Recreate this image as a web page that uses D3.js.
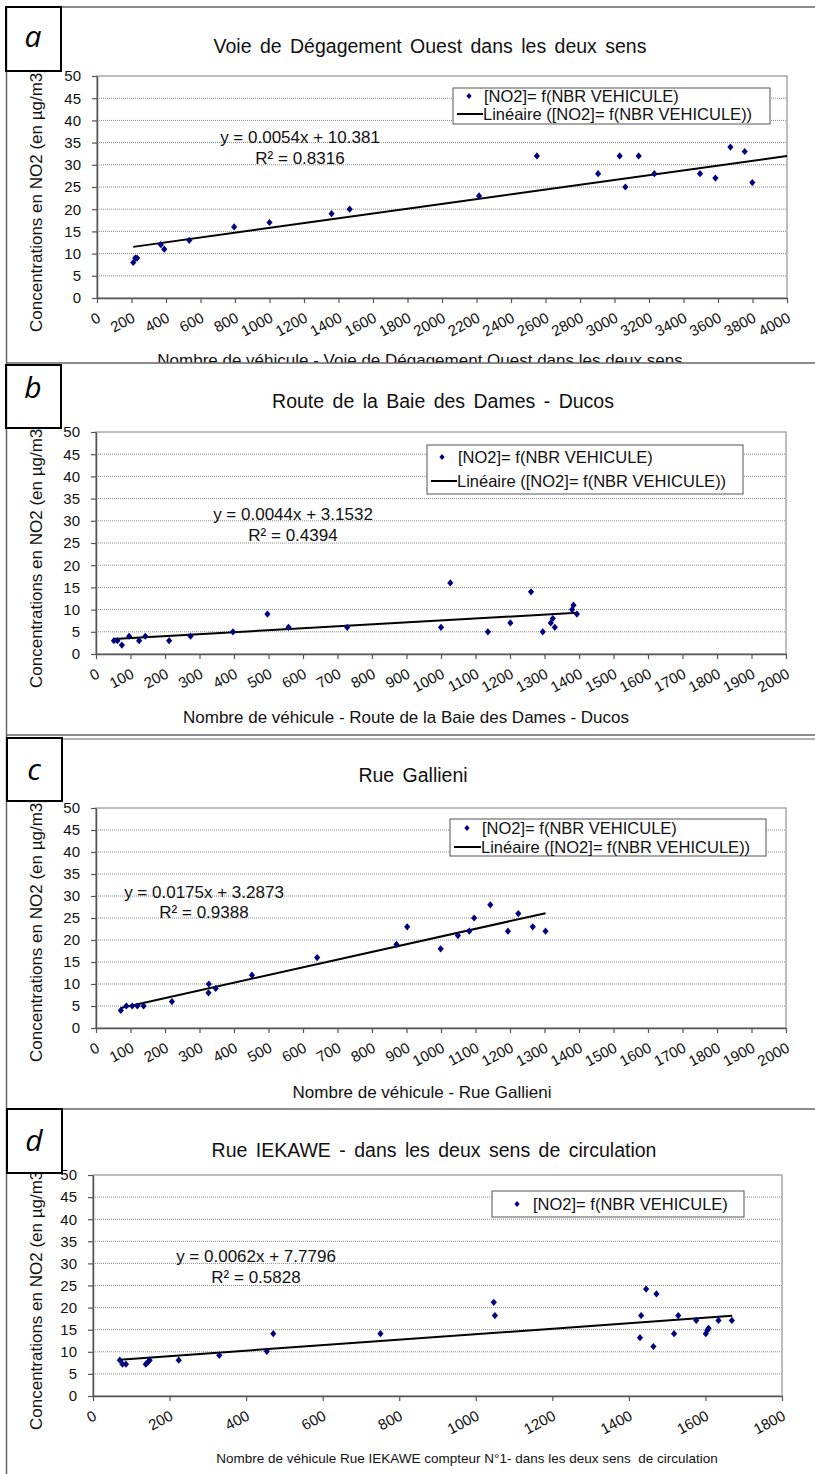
<!DOCTYPE html>
<html>
<head>
<meta charset="utf-8">
<script src="https://cdn.jsdelivr.net/npm/d3@7"></script>
<style>
  body { margin: 0; background: #fff; }
  svg { display: block; font-family: "Liberation Sans", Arial, sans-serif; }
</style>
</head>
<body>
<div id="chart"></div>
<script>
var width = 815;
var height = 1474;

// a - Voie de Dégagement Ouest
var aVehicules = [210, 222, 232, 370, 390, 535, 795, 1000, 1360, 1465, 2215, 2550, 2905, 3030, 3063, 3140, 3231, 3496, 3585, 3672, 3755, 3799];
var aNO2 = [8, 9, 9, 12, 11, 13, 16, 17, 19, 20, 23, 32, 28, 32, 25, 32, 28, 28, 27, 34, 33, 26];
var aFit = [0.0054, 10.381, 0.8316];
var aTrendRange = [210, 4000];

// b - Route de la Baie des Dames
var bVehicules = [52, 62, 75, 96, 125, 143, 212, 274, 397, 497, 558, 728, 1000, 1027, 1136, 1201, 1261, 1295, 1318, 1324, 1330, 1380, 1384, 1394];
var bNO2 = [3, 3, 2, 4, 3, 4, 3, 4, 5, 9, 6, 6, 6, 16, 5, 7, 14, 5, 7, 8, 6, 10, 11, 9];
var bFit = [0.0044, 3.1532, 0.4394];
var bTrendRange = [52, 1394];

// c - Rue Gallieni
var cVehicules = [72, 88, 105, 120, 138, 220, 326, 327, 347, 452, 641, 871, 902, 999, 1049, 1082, 1096, 1143, 1194, 1224, 1266, 1303];
var cNO2 = [4, 5, 5, 5, 5, 6, 8, 10, 9, 12, 16, 19, 23, 18, 21, 22, 25, 28, 22, 26, 23, 22];
var cFit = [0.0175, 3.2873, 0.9388];
var cTrendRange = [72, 1303];

// d - Rue IEKAWE
var dVehicules = [70, 77, 86, 138, 144, 148, 224, 330, 454, 471, 751, 1047, 1050, 1429, 1432, 1445, 1464, 1472, 1518, 1529, 1576, 1601, 1605, 1608, 1634, 1669];
var dNO2 = [8.1, 7.2, 7.2, 7.2, 7.7, 8.1, 8.1, 9.2, 10.1, 14.1, 14.1, 21.2, 18.2, 13.2, 18.2, 24.2, 11.2, 23.1, 14.1, 18.2, 17.1, 14.1, 14.9, 15.3, 17.1, 17.1];
var dFit = [0.0062, 7.7796, 0.5828];
var dTrendRange = [70, 1670];

var yTicks = [0, 5, 10, 15, 20, 25, 30, 35, 40, 45, 50];
var xTicksA = d3.range(0, 4001, 200);
var xTicksBC = d3.range(0, 2001, 100);
var xTicksD = d3.range(0, 1801, 200);

var yTitle = "Concentrations en NO2 (en µg/m3)";
var serieName = "[NO2]= f(NBR VEHICULE)";
var trendName = "Linéaire ([NO2]= f(NBR VEHICULE))";

var panels = [
  { letter: "a", title: "Voie de Dégagement Ouest dans les deux sens",
    xTitle: "Nombre de véhicule - Voie de Dégagement Ouest dans les deux sens",
    xs: aVehicules, ys: aNO2, fit: aFit, trend: aTrendRange, xTicks: xTicksA, legendRows: 2,
    top: 7, bottom: 363, plot: [97, 76, 787, 298], titleAt: [430, 53], xTitleAt: [420, 366], xTitleSize: 17,
    eqAt: [300, 143, 164], legend: [453, 88, 317, 36, 102, 120, 469, 483], box: [6, 7, 55, 64], letterAt: [33, 47] },
  { letter: "b", title: "Route de la Baie des Dames - Ducos",
    xTitle: "Nombre de véhicule - Route de la Baie des Dames - Ducos",
    xs: bVehicules, ys: bNO2, fit: bFit, trend: bTrendRange, xTicks: xTicksBC, legendRows: 2,
    top: 363, bottom: 735, plot: [96, 432, 786, 654], titleAt: [443, 408], xTitleAt: [406, 723], xTitleSize: 17,
    eqAt: [293, 520, 541], legend: [427, 445, 316, 49, 463, 487, 442, 457], box: [6, 365, 55, 63], letterAt: [33, 398] },
  { letter: "c", title: "Rue Gallieni",
    xTitle: "Nombre de véhicule - Rue Gallieni",
    xs: cVehicules, ys: cNO2, fit: cFit, trend: cTrendRange, xTicks: xTicksBC, legendRows: 2,
    top: 739, bottom: 1109, plot: [96, 808, 786, 1028], titleAt: [413, 782], xTitleAt: [422, 1098], xTitleSize: 17,
    eqAt: [204, 898, 918], legend: [450, 819, 316, 37, 834, 853, 467, 481], box: [7, 738, 55, 63], letterAt: [34, 780] },
  { letter: "d", title: "Rue IEKAWE - dans les deux sens de circulation",
    xTitle: "Nombre de véhicule Rue IEKAWE compteur N°1- dans les deux sens  de circulation",
    xs: dVehicules, ys: dNO2, fit: dFit, trend: dTrendRange, xTicks: xTicksD, legendRows: 1,
    top: 1109, bottom: 1474, plot: [93, 1175, 782, 1396], titleAt: [434, 1157], xTitleAt: [467, 1463], xTitleSize: 13.5,
    eqAt: [256, 1262, 1283], legend: [492, 1191, 252, 26, 1210, 0, 517, 532], box: [7, 1109, 55, 64], letterAt: [34, 1151] }
];

var svg = d3.select("#chart").append("svg")
  .attr("width", width)
  .attr("height", height)
  .attr("viewBox", "0 0 " + width + " " + height);

var diamond = "M0,-3.6L3.1,0L0,3.6L-3.1,0Z";

var drawPanel = function(p){
  var g = svg.append("g");

  // white background hides what overflows from the panel above
  g.append("rect")
    .attr("x", 0).attr("y", p.top)
    .attr("width", width).attr("height", p.bottom - p.top)
    .attr("fill", "#fff");

  var x = d3.scaleLinear().domain([0, d3.max(p.xTicks)]).range([p.plot[0], p.plot[2]]);
  var y = d3.scaleLinear().domain([0, 50]).range([p.plot[3], p.plot[1]]);

  // gridlines
  g.selectAll(".grid")
    .data(yTicks.slice(1, -1))
    .enter().append("line")
    .attr("x1", p.plot[0]).attr("x2", p.plot[2])
    .attr("y1", function(d){ return y(d); })
    .attr("y2", function(d){ return y(d); })
    .attr("stroke", "#8a8a8a")
    .attr("stroke-width", 1)
    .attr("stroke-dasharray", "1,1");

  g.append("rect")
    .attr("x", p.plot[0]).attr("y", p.plot[1])
    .attr("width", p.plot[2] - p.plot[0]).attr("height", p.plot[3] - p.plot[1])
    .attr("fill", "none").attr("stroke", "#a8a8a8").attr("stroke-width", 1.5);

  var yAxis = g.append("g")
    .attr("transform", "translate(" + p.plot[0] + ",0)")
    .call(d3.axisLeft(y).tickValues(yTicks).tickSize(5).tickSizeOuter(0).tickPadding(11));
  var xAxis = g.append("g")
    .attr("transform", "translate(0," + p.plot[3] + ")")
    .call(d3.axisBottom(x).tickValues(p.xTicks).tickFormat(d3.format("d")).tickSize(5).tickSizeOuter(0));

  [yAxis, xAxis].forEach(function(ax){
    ax.select(".domain").attr("stroke", "#555").attr("stroke-width", 1.5);
    ax.selectAll(".tick line").attr("stroke", "#555").attr("stroke-width", 1.2);
    ax.selectAll("text").attr("font-size", 15).attr("fill", "#111")
      .attr("font-family", "Liberation Sans, Arial, sans-serif");
  });
  xAxis.selectAll("text")
    .attr("x", null).attr("y", null).attr("dy", null)
    .attr("text-anchor", "end")
    .attr("transform", "translate(4,23) rotate(-28)");

  // trend line from the fitted equation
  var slope = p.fit[0], intercept = p.fit[1];
  g.append("line")
    .attr("x1", x(p.trend[0])).attr("y1", y(slope * p.trend[0] + intercept))
    .attr("x2", x(p.trend[1])).attr("y2", y(slope * p.trend[1] + intercept))
    .attr("stroke", "#000").attr("stroke-width", 2);

  // points
  g.selectAll(".pt")
    .data(p.xs.map(function(v, i){ return [v, p.ys[i]]; }))
    .enter().append("path")
    .attr("d", diamond)
    .attr("transform", function(d){ return "translate(" + x(d[0]) + "," + y(d[1]) + ")"; })
    .attr("fill", "#000080");

  // equation
  g.append("text")
    .attr("x", p.eqAt[0]).attr("y", p.eqAt[1])
    .attr("text-anchor", "middle").attr("font-size", 17).attr("fill", "#111")
    .text("y = " + slope + "x + " + intercept);
  g.append("text")
    .attr("x", p.eqAt[0]).attr("y", p.eqAt[2])
    .attr("text-anchor", "middle").attr("font-size", 17).attr("fill", "#111")
    .text("R² = " + p.fit[2]);

  // legend
  var L = p.legend;
  g.append("rect")
    .attr("x", L[0]).attr("y", L[1]).attr("width", L[2]).attr("height", L[3])
    .attr("fill", "#fff").attr("stroke", "#555").attr("stroke-width", 1);
  g.append("path").attr("d", diamond)
    .attr("transform", "translate(" + L[6] + "," + (L[4] - 6) + ") scale(0.85)")
    .attr("fill", "#000080");
  g.append("text").attr("x", L[7] + 1).attr("y", L[4])
    .attr("font-size", 16.5).attr("fill", "#111").text(serieName);
  if (p.legendRows > 1){
    g.append("line")
      .attr("x1", L[0] + 4).attr("x2", L[7])
      .attr("y1", L[5] - 6).attr("y2", L[5] - 6)
      .attr("stroke", "#000").attr("stroke-width", 2);
    g.append("text").attr("x", L[7]).attr("y", L[5])
      .attr("font-size", 16.5).attr("fill", "#111").text(trendName);
  }

  // titles
  g.append("text")
    .attr("x", p.titleAt[0]).attr("y", p.titleAt[1])
    .attr("text-anchor", "middle").attr("font-size", 19.5).attr("word-spacing", 3)
    .attr("fill", "#111").text(p.title);
  g.append("text")
    .attr("x", p.xTitleAt[0]).attr("y", p.xTitleAt[1])
    .attr("text-anchor", "middle").attr("font-size", p.xTitleSize)
    .style("white-space", "pre")
    .attr("fill", "#111").text(p.xTitle);
  g.append("text")
    .attr("transform", "translate(42," + (p.plot[3] + 34) + ") rotate(-90)")
    .attr("font-size", 17).attr("fill", "#111").text(yTitle);

  // frame line on top of the panel
  g.append("line")
    .attr("x1", 6).attr("x2", width)
    .attr("y1", p.top).attr("y2", p.top)
    .attr("stroke", p.letter === "c" ? "#999" : "#666").attr("stroke-width", 1.5);

  // letter box
  g.append("rect")
    .attr("x", p.box[0]).attr("y", p.box[1]).attr("width", p.box[2]).attr("height", p.box[3])
    .attr("fill", "#fff").attr("stroke", "#000").attr("stroke-width", 2);
  g.append("text")
    .attr("x", p.letterAt[0]).attr("y", p.letterAt[1])
    .attr("text-anchor", "middle").attr("font-size", 30).attr("font-style", "italic")
    .attr("font-family", "Open Sans, DejaVu Sans, sans-serif")
    .attr("fill", "#000").text(p.letter);
};

panels.forEach(drawPanel);

// outer frame lines
svg.append("line")
  .attr("x1", 6).attr("x2", width).attr("y1", 735).attr("y2", 735)
  .attr("stroke", "#666").attr("stroke-width", 1.5);
svg.append("line")
  .attr("x1", 6.5).attr("x2", 6.5).attr("y1", 7).attr("y2", height)
  .attr("stroke", "#666").attr("stroke-width", 1.5);
panels.forEach(function(p){
  svg.append("rect")
    .attr("x", p.box[0]).attr("y", p.box[1]).attr("width", p.box[2]).attr("height", p.box[3])
    .attr("fill", "none").attr("stroke", "#000").attr("stroke-width", 2);
});
</script>
</body>
</html>
